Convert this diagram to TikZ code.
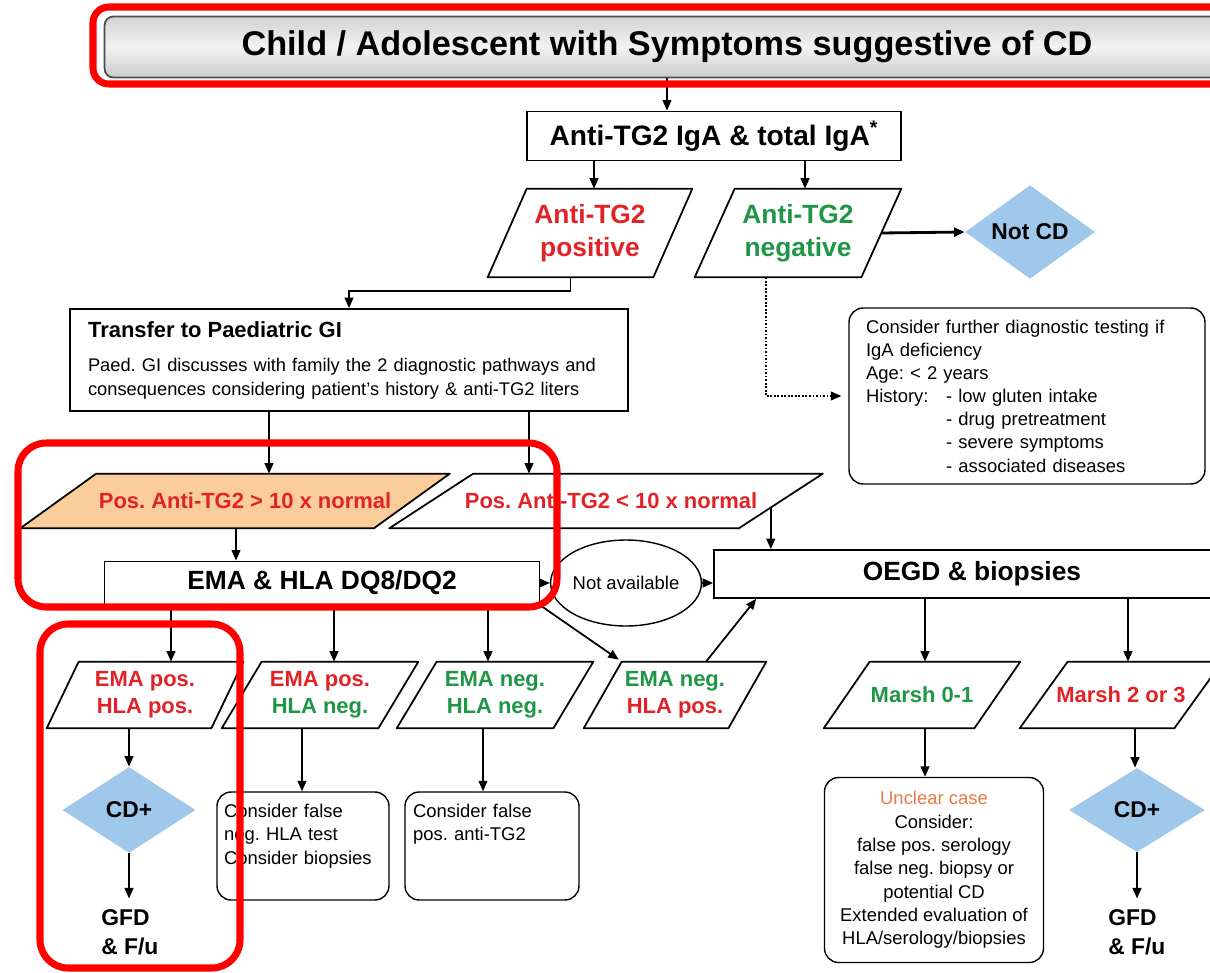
\documentclass[tikz,border=0pt]{standalone}
\usepackage{fontspec}
\setmainfont{Liberation Sans}
\usetikzlibrary{positioning,arrows.meta,calc,shapes.geometric}
\pgfdeclarelayer{background}
\pgfsetlayers{background,main}
\definecolor{cdred}{RGB}{225,35,40}
\definecolor{cdgreen}{RGB}{30,150,70}
\definecolor{cdorange}{RGB}{250,205,155}
\definecolor{cdblue}{RGB}{160,200,235}
\definecolor{cdcase}{RGB}{235,120,70}
\frenchspacing

\begin{document}
\begin{tikzpicture}[x=0.02cm,y=-0.02cm,
  every node/.style={font=\small},
  arr/.style={line width=1pt,-{Triangle[length=6pt,width=5pt]}},
  box/.style={draw,line width=1pt,inner sep=0pt},
  note/.style={draw,line width=0.8pt,rounded corners=8pt,inner sep=0pt},
  para/.style={minimum width=3.92cm,minimum height=1.32cm,inner sep=0pt,
    align=center,font=\fontsize{12.5}{15.3}\selectfont\bfseries},
  dia/.style={diamond,fill=cdblue,inner sep=0pt,font=\fontsize{13}{15}\selectfont\bfseries},
  gfd/.style={anchor=west,inner sep=0pt,align=left,font=\fontsize{13}{16.4}\selectfont\bfseries},
  hilite/.style={draw=red,line width=4pt,rounded corners=#1}]
\useasboundingbox (0,0) rectangle (1210,973);

% top part
\node[draw=gray!60!black,line width=1pt,rounded corners=5pt,top color=gray!35,bottom color=gray!40,middle color=gray!10,
  minimum width=22.5cm,minimum height=1.22cm,font=\fontsize{19.5}{22}\selectfont\bfseries] (title) at (667,47)
  {Child / Adolescent with Symptoms suggestive of CD};
\node[box,minimum width=7.48cm,minimum height=0.98cm,font=\fontsize{16}{19}\selectfont\bfseries] (iga) at (714,136)
  {Anti-TG2 IgA \& total IgA\textsuperscript{*}};
\node[para,minimum width=4.08cm,minimum height=1.76cm,font=\fontsize{15}{19}\selectfont\bfseries,text=cdred]
  (tgpos) at (590,233) {Anti-TG2\\positive};
\node[para,minimum width=4.12cm,minimum height=1.76cm,font=\fontsize{15}{19}\selectfont\bfseries,text=cdgreen]
  (tgneg) at (798,233) {Anti-TG2\\negative};
\node[dia,minimum width=2.6cm,minimum height=1.68cm] (notcd) at (1030,232) {Not CD};

\node[box,minimum width=11.16cm,minimum height=2.04cm,text width=10.44cm,align=left,
  font=\fontsize{10.4}{13.5}\selectfont] (transfer) at (349,360)
  {{\fontsize{12.5}{15}\selectfont\bfseries Transfer to Paediatric GI}\\[6pt]
   Paed. GI discusses with family the 2 diagnostic pathways and\\
   consequences considering patient's history \& anti-TG2 liters};
\node[note,minimum width=7.12cm,minimum height=3.52cm,text width=6.44cm,align=left,
  font=\fontsize{10.5}{13.2}\selectfont] (consider) at (1027,396)
  {Consider further diagnostic testing if\\
   IgA deficiency\\
   Age: < 2 years\\
   \makebox[1.6cm][l]{History:}- low gluten intake\\
   \hspace*{1.6cm}- drug pretreatment\\
   \hspace*{1.6cm}- severe symptoms\\
   \hspace*{1.6cm}- associated diseases};

% titers
\node[para,minimum width=8.58cm,minimum height=1.08cm,text=cdred] (big) at (235,501) {\hspace*{0.4cm}Pos. Anti-TG2 > 10 x normal};
\node[para,minimum width=8.66cm,minimum height=1.08cm,text=cdred] (small) at (606,501) {\hspace*{0.2cm}Pos. Anti-TG2 < 10 x normal};

\node[box,minimum width=8.7cm,minimum height=0.86cm,font=\fontsize{15}{18}\selectfont\bfseries] (ema) at (322,583)
  {EMA \& HLA DQ8/DQ2};
\node[draw,line width=0.8pt,ellipse,minimum width=2.3cm,minimum height=1.72cm,inner sep=0pt,
  font=\fontsize{10.5}{12}\selectfont] (na) at (626,583) {Not available};
\node[box,minimum width=10.32cm,minimum height=0.96cm,font=\fontsize{15}{18}\selectfont\bfseries] (oegd) at (972,574)
  {OEGD \& biopsies};

% results
\node[para,text=cdred] (p1) at (145,695) {EMA pos.\\HLA pos.};
\node[para,text=cdred] (p2) at (320,695) {EMA pos.\\\textcolor{cdgreen}{HLA neg.}};
\node[para,text=cdgreen] (p3) at (495,695) {EMA neg.\\HLA neg.};
\node[para,minimum width=3.64cm,text=cdgreen] (p4) at (675,695) {EMA neg.\\\textcolor{cdred}{HLA pos.}};
\node[para,text=cdgreen] (m01) at (922,695) {Marsh 0-1};
\node[para,minimum width=4.04cm,text=cdred] (m23) at (1121,695) {Marsh 2 or 3};

\node[dia,minimum width=2.66cm,minimum height=1.72cm] (cd1) at (129,810) {CD+};
\node[gfd] (gfd1) at (101,932) {GFD\\\& F/u};
\node[note,minimum width=3.44cm,minimum height=2.16cm,text width=3.16cm,align=left,
  font=\fontsize{10.5}{13.5}\selectfont] (box2) at (303,846)
  {Consider false\\neg. HLA test\\Consider biopsies\\\mbox{}};
\node[note,minimum width=3.48cm,minimum height=2.16cm,text width=3.16cm,align=left,
  font=\fontsize{10.5}{13.5}\selectfont] (box3) at (492,846)
  {Consider false\\pos. anti-TG2\\\mbox{}\\\mbox{}};
\node[note,minimum width=4.38cm,minimum height=3.7cm,align=center,
  font=\fontsize{10.5}{13.3}\selectfont] (unclear) at (934,870)
  {\textcolor{cdcase}{Unclear case}\\Consider:\\false pos. serology\\false neg. biopsy or\\potential CD\\
   Extended evaluation of\\HLA/serology/biopsies};
\node[dia,minimum width=2.72cm,minimum height=1.68cm] (cd2) at (1137,810) {CD+};
\node[gfd] (gfd2) at (1108,932) {GFD\\\& F/u};

% parallelograms behind the texts
\begin{pgfonlayer}{background}
\fill[white] (0,0) rectangle (1210,973);
\foreach \n/\s/\c in {tgpos/39/white,tgneg/40/white,big/76/cdorange,small/84/white,
    p1/32/white,p2/40/white,p3/40/white,p4/38/white,m01/46/white,m23/48/white}
  \filldraw[fill=\c,line width=1pt,line join=round]
    ($(\n.north west)+(\s,0)$) -- (\n.north east) -- ($(\n.south east)+(-\s,0)$) -- (\n.south west) -- cycle;
\end{pgfonlayer}

% connectors
\draw[arr] (title.south) -- (title.south |- iga.north);
\draw[arr] (iga.south -| 594,0) -- (594,0 |- tgpos.north);
\draw[arr] (iga.south -| 805,0) -- (805,0 |- tgneg.north);
\draw[arr,line width=1.6pt] ($(tgneg.east)+(-20,0)$) -- (notcd.west);
\draw[arr] ($(tgpos.south)+(-19.5,0)$) -- ++(0,14) -| (transfer.north);
\draw[arr,densely dotted] ($(tgneg.south)+(-32,0)$) |- ([xshift=-4pt]consider.west);
\draw[arr] (transfer.south -| 269,0) -- (269,0 |- big.north);
\draw[arr] (transfer.south -| 529,0) -- (529,0 |- small.north);
\draw[arr] (big.south -| 236,0) -- (236,0 |- ema.north);
\draw[arr] ($(small.east)+(-52,7)$) coordinate (s1) -- (s1 |- oegd.north);
\draw[arr] (ema.east) -- (na.west);
\draw[arr] (na.east) -- (na.east -| oegd.west);
\draw[arr] (ema.south -| 171,0) -- (171,0 |- p1.north);
\draw[arr] (ema.south -| 334,0) -- (334,0 |- p2.north);
\draw[arr] (ema.south -| 488,0) -- (488,0 |- p3.north);
\draw[arr,shorten >=2pt] (ema.south east) -- ($(p4.north west)+(38,0)$);
\draw[arr] ($(p4.north)+(31,0)$) -- ($(oegd.south west)+(43,0)$);
\draw[arr] (oegd.south -| 925,0) -- (925,0 |- m01.north);
\draw[arr] (oegd.south -| 1128,0) -- (1128,0 |- m23.north);
\draw[arr] ($(p1.south)+(-16,0)$) coordinate (b1) -- (b1 |- cd1.north);
\draw[arr] (cd1.south) -- ([yshift=6pt]cd1.south |- gfd1.north);
\draw[arr] (302,0 |- p2.south) -- (302,0 |- box2.north);
\draw[arr] (483,0 |- p3.south) -- (483,0 |- box3.north);
\draw[arr] (925,0 |- m01.south) -- (925,0 |- unclear.north);
\draw[arr] (1135,0 |- m23.south) -- (1135,0 |- cd2.north);
\draw[arr] (cd2.south) -- ([yshift=6pt]cd2.south |- gfd2.north);

% red frames
\draw[hilite=9pt] (93,7) rectangle (1240,84);
\draw[hilite=16pt] (18,443) rectangle (557,607);
\draw[hilite=16pt] (40,624) rectangle (240,968);
\end{tikzpicture}
\end{document}
